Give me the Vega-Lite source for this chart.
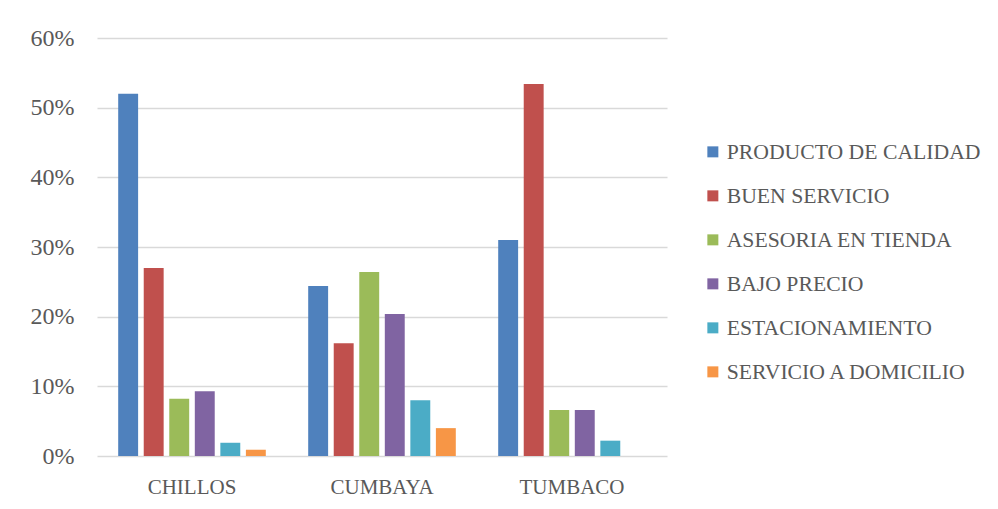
{
  "$schema": "https://vega.github.io/schema/vega-lite/v6.json",
  "width": 570,
  "height": 418,
  "autosize": {"type": "none"},
  "padding": {"left": 97, "top": 38, "right": 331, "bottom": 53},
  "background": "#ffffff",
  "config": {
    "view": {"stroke": null},
    "font": "Liberation Serif",
    "axis": {
      "labelFont": "Liberation Serif",
      "labelColor": "#595959",
      "labelFontSize": 21
    },
    "legend": {
      "labelFont": "Liberation Serif",
      "labelColor": "#595959",
      "labelFontSize": 21.7
    }
  },
  "data": {
    "values": [
      {"zona": "CHILLOS", "motivo": "PRODUCTO DE CALIDAD", "pct": 0.520},
      {"zona": "CHILLOS", "motivo": "BUEN SERVICIO", "pct": 0.270},
      {"zona": "CHILLOS", "motivo": "ASESORIA EN TIENDA", "pct": 0.082},
      {"zona": "CHILLOS", "motivo": "BAJO PRECIO", "pct": 0.093},
      {"zona": "CHILLOS", "motivo": "ESTACIONAMIENTO", "pct": 0.019},
      {"zona": "CHILLOS", "motivo": "SERVICIO A DOMICILIO", "pct": 0.009},
      {"zona": "CUMBAYA", "motivo": "PRODUCTO DE CALIDAD", "pct": 0.244},
      {"zona": "CUMBAYA", "motivo": "BUEN SERVICIO", "pct": 0.162},
      {"zona": "CUMBAYA", "motivo": "ASESORIA EN TIENDA", "pct": 0.264},
      {"zona": "CUMBAYA", "motivo": "BAJO PRECIO", "pct": 0.204},
      {"zona": "CUMBAYA", "motivo": "ESTACIONAMIENTO", "pct": 0.080},
      {"zona": "CUMBAYA", "motivo": "SERVICIO A DOMICILIO", "pct": 0.040},
      {"zona": "TUMBACO", "motivo": "PRODUCTO DE CALIDAD", "pct": 0.310},
      {"zona": "TUMBACO", "motivo": "BUEN SERVICIO", "pct": 0.534},
      {"zona": "TUMBACO", "motivo": "ASESORIA EN TIENDA", "pct": 0.066},
      {"zona": "TUMBACO", "motivo": "BAJO PRECIO", "pct": 0.066},
      {"zona": "TUMBACO", "motivo": "ESTACIONAMIENTO", "pct": 0.022},
      {"zona": "TUMBACO", "motivo": "SERVICIO A DOMICILIO", "pct": 0.0}
    ]
  },
  "mark": {"type": "bar"},
  "encoding": {
    "x": {
      "field": "zona",
      "type": "nominal",
      "sort": ["CHILLOS", "CUMBAYA", "TUMBACO"],
      "scale": {"paddingInner": 0, "paddingOuter": 0},
      "axis": {
        "title": null,
        "labelAngle": 0,
        "labelPadding": 20,
        "ticks": false,
        "domain": false
      }
    },
    "xOffset": {
      "field": "motivo",
      "type": "nominal",
      "sort": ["PRODUCTO DE CALIDAD", "BUEN SERVICIO", "ASESORIA EN TIENDA", "BAJO PRECIO", "ESTACIONAMIENTO", "SERVICIO A DOMICILIO"],
      "scale": {"paddingInner": 0.22, "paddingOuter": 0.83}
    },
    "y": {
      "field": "pct",
      "type": "quantitative",
      "scale": {"domain": [0, 0.6], "nice": false},
      "axis": {
        "title": null,
        "format": ".0%",
        "values": [0, 0.1, 0.2, 0.3, 0.4, 0.5, 0.6],
        "ticks": false,
        "domain": false,
        "labelPadding": 23,
        "gridColor": "#d9d9d9",
        "gridWidth": 1.5,
        "labelFontSize": 24
      }
    },
    "color": {
      "field": "motivo",
      "type": "nominal",
      "sort": ["PRODUCTO DE CALIDAD", "BUEN SERVICIO", "ASESORIA EN TIENDA", "BAJO PRECIO", "ESTACIONAMIENTO", "SERVICIO A DOMICILIO"],
      "scale": {
        "range": ["#4F81BD", "#C0504D", "#9BBB59", "#8064A2", "#4BACC6", "#F79646"]
      },
      "legend": {
        "title": null,
        "orient": "none",
        "legendX": 605,
        "legendY": 103,
        "symbolType": "square",
        "symbolSize": 121,
        "symbolStrokeWidth": 0,
        "labelOffset": 3,
        "rowPadding": 21,
        "labelLimit": 400
      }
    }
  }
}
